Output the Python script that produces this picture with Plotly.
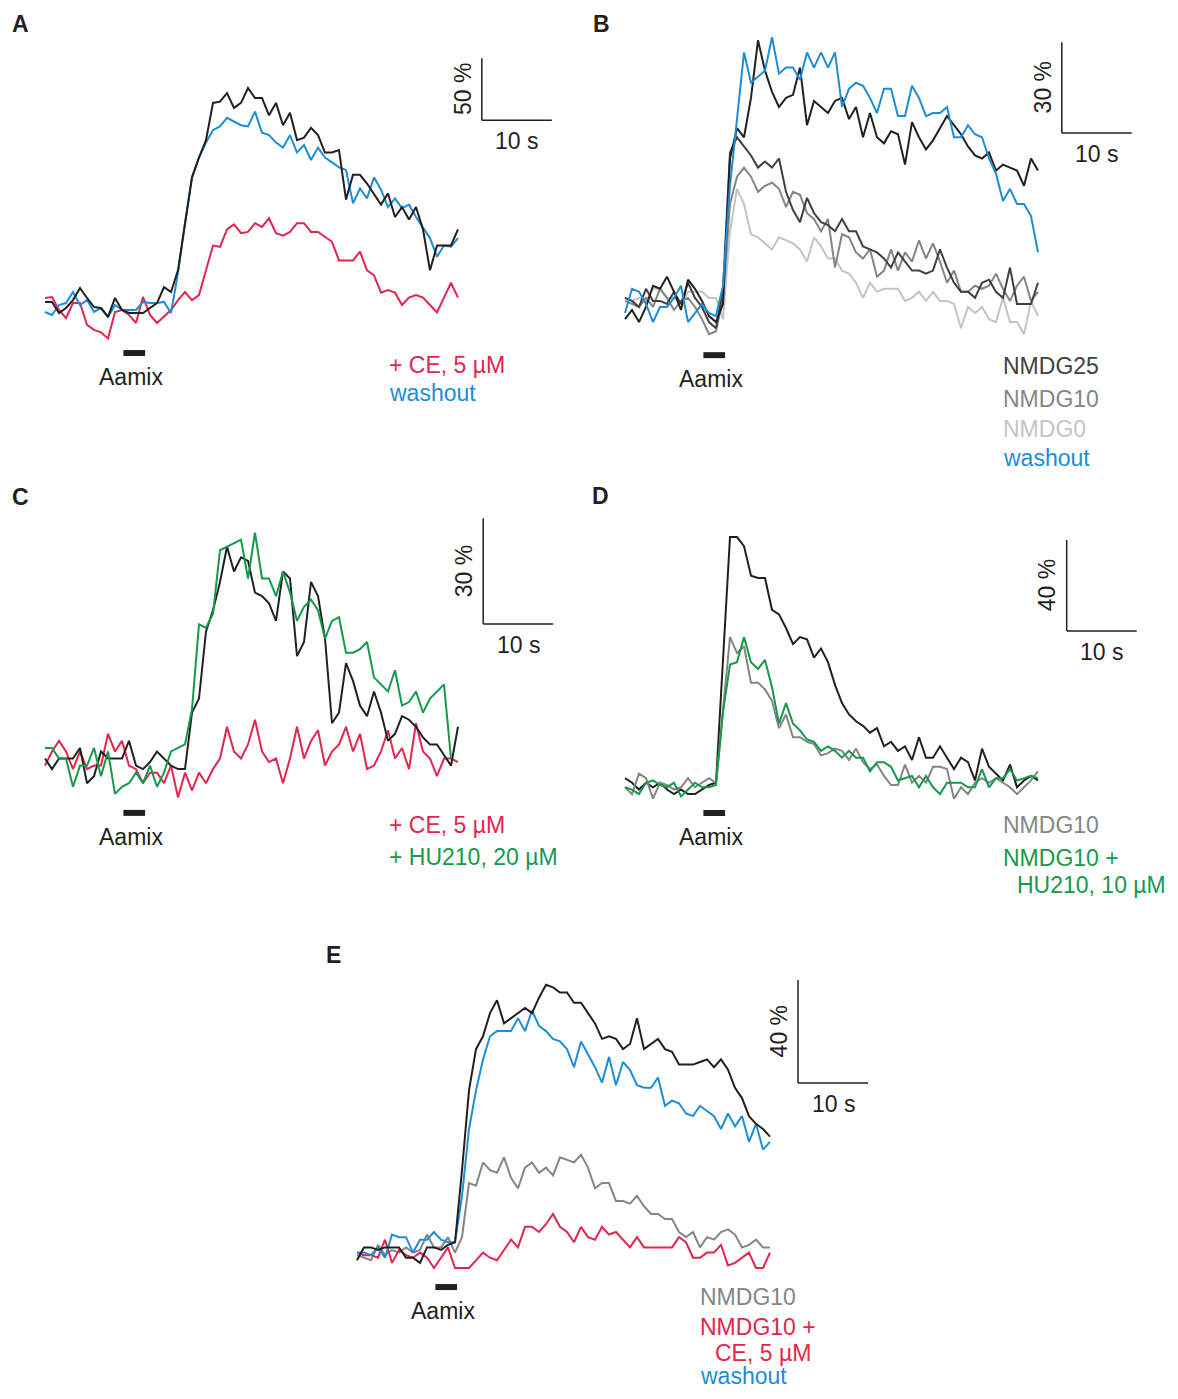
import plotly.graph_objects as go

PAGE_OFF = 8                 # default body margin of the page
W, H = 1178 - 2 * PAGE_OFF, 1399 - 2 * PAGE_OFF
DT = 1.0          # seconds per frame
SX = 7.0          # pixels per second (layout scale)
FONT = "Arial, Liberation Sans, Helvetica, sans-serif"

# ---------------- colours ----------------
BLACK = "#231f20"
BLUE = "#1d8dd5"
RED = "#e4254e"
GREEN = "#15994b"
G25 = "#404040"
G10 = "#858585"
G0 = "#c4c4c4"

# ---------------- data (ΔF/F, %) ----------------
A_ctrl = [6.5, 6.5, -2.4, 1.6, 8, 17.7, 9.7, 2.4, 1.6, -5.6, 9.7, 0, -2.4, -2.4, -2.4, 1.6, 5.6, 18.5, 14.5, 32,
          70, 107, 123, 137, 167, 168, 175, 163, 167, 179, 171, 171, 157, 167, 149, 159, 137, 139, 147, 141,
          127, 127, 129, 89, 109, 109, 102, 93, 85, 94, 75, 83, 73, 83, 65, 32, 52, 52, 52, 65]
A_ce = [9.7, 10.5, 0, -6.5, 5.6, 5.6, -12, -16, -18, -23, -1.6, 0, -4, -10.5, 10.5, -4, -10.5, -5.6, 0, 8,
        14.5, 8, 12, 32, 52, 51, 65, 69, 62, 63, 70, 67, 74, 62, 60, 63, 70, 70, 63, 63,
        59, 55, 40, 40, 40, 47, 32, 28, 14, 16, 14, 4, 10, 12, 10, 4, -2, 10, 22, 10]
A_wash = [-1.6, -4, 4, 5.6, 14.5, 4, 8, -1.6, 1.6, -5.6, 4, 0, 0, 0, 6.5, 5.6, 5.6, 6.5, -2.4, 30,
          70, 107, 123, 135, 145, 148, 155, 152, 149, 148, 160, 143, 141, 135, 131, 141, 127, 133, 121, 131,
          123, 119, 115, 113, 86, 98, 90, 107, 97, 83, 90, 82, 85, 75, 67, 58, 43, 52, 51, 58]

B_ctrl = [-3, 0, -4, 1, 8, 7, 11, 6, 0, 10, 7, 3, -2, -4, 2, 50, 60, 57, 70, 89, 79, 72, 67, 70, 71, 80, 61, 69, 67, 65,
          69, 70, 63, 67, 57, 65, 57, 55, 59, 58, 48, 62, 57, 53, 56, 60, 64, 61, 58, 54, 51, 50, 52, 46, 48, 47, 46, 41, 50, 46]
B_n25 = [4, 3, 1, 7, 3, 3, 2, 6, 2, 9, 4, 1, -4, -6, 7, 52, 57, 54, 51, 47, 49, 47, 50, 39, 33, 29, 37, 32, 29, 28,
         26, 30, 26, 26, 21, 20, 19, 17, 14, 19, 16, 13, 13, 12, 13, 20, 14, 9, 6, 6, 4, 9, 10, 6, 4, 14, 2, 2, 2, 9]
B_n10 = [3, 2, 1, 4, 1, 7, 4, 0, 3, 4, 1, -3, -8, -7, 4, 35, 44, 47, 44, 39, 41, 42, 40, 34, 39, 38, 32, 30, 26, 30,
         14, 25, 24, 19, 17, 20, 11, 13, 20, 13, 19, 16, 23, 17, 22, 16, 9, 13, 6, 6, 8, 7, 8, 12, 7, 3, 8, 11, 3, 6]
B_n0 = [4, 3, 4, 3, 7, 7, 4, 4, 2, 6, 6, 6, 4, 4, -3, 26, 40, 35, 25, 24, 22, 20, 24, 23, 22, 20, 16, 24, 21, 17,
        17, 13, 12, 9, 4, 9, 6, 7, 7, 7, 3, 4, 6, 3, 6, 3, 3, 2, -6, 1, -1, 1, -3, -4, 4, -4, -4, -8, 3, -2]
B_wash = [-1, 7, 6, 2, -4, 1, 1, 4, 8, -4, -1, 2, -1, -2, 8, 41, 63, 85, 75, 77, 79, 90, 78, 80, 80, 76, 85, 80, 85, 80,
          85, 67, 73, 75, 74, 70, 65, 73, 73, 64, 64, 74, 70, 64, 65, 65, 67, 57, 57, 61, 58, 57, 50, 45, 36, 40, 35, 35, 31, 19]

C_ctrl = [-1, -4, -1, -1, -1, 2, -8, -6, 1, -1, -1, -1, 4, -3, -4, -2, 1, -1, -3, -4, -4, 12, 16, 35, 41, 49, 59, 52, 56, 55,
          46, 45, 43, 38, 52, 50, 28, 32, 49, 45, 33, 9, 12, 26, 21, 14, 11, 18, 12, 4, 6, 11, 10, 8, 5, 3, 3, 0, -3, 8]
C_ce = [-3, 1, 4, 1, -4, 1, -4, -3, -3, 6, 1, 4, -3, -4, -8, -5, -5, -8, -3, -12, -5, -10, -5, -8, -4, -1, 8, 1, -1, 3,
        10, 1, -2, -1, -8, -1, 8, -1, 4, 7, -3, 1, 3, 8, 1, 6, -4, -3, 1, 7, -1, 2, -4, 9, 1, -1, -6, -1, -1, -2]
C_hu = [2, 2, -1, -1, -9, -3, -3, 2, -6, 1, -11, -9, -8, -5, -8, -3, -9, -5, 1, 2, 3, 13, 37, 36, 40, 58, 59, 60, 61, 50,
        63, 50, 50, 45, 52, 46, 38, 42, 44, 41, 33, 38, 39, 29, 29, 30, 32, 22, 20, 18, 24, 14, 15, 18, 12, 16, 18, 20, -1]

D_ctrl = [3, 1, -2, 1, -1, 1, -2, -4, -2, -4, -4, -2, 0, 1, 55, 109, 109, 105, 92, 91, 91, 77, 75, 69, 62, 65, 64, 56, 60, 54,
          44, 36, 31, 28, 26, 23, 25, 17, 19, 15, 17, 11, 21, 12, 12, 17, 12, 7, 12, 10, 2, 16, 8, 5, 2, 9, -1, 2, 4, 2]
D_n10 = [-1, -4, 5, 3, -6, 1, 0, -2, -1, 3, -1, 1, 3, 1, 33, 65, 58, 61, 45, 45, 42, 37, 25, 31, 21, 21, 19, 18, 13, 14,
         16, 15, 11, 16, 10, 7, 9, 4, 0, 0, 9, 1, 4, 1, 8, 8, 7, -6, -1, -4, 1, 3, 1, 3, 1, -1, -4, -1, 2, 6]
D_hu = [-1, -2, -4, 1, 2, 0, -1, 1, -5, -2, 1, -1, -1, 0, 32, 53, 54, 65, 54, 51, 55, 43, 27, 36, 27, 24, 20, 19, 15, 17,
        15, 12, 15, 12, 12, 6, 10, 10, 8, 2, 3, 4, -1, 4, -1, -4, 1, 1, 1, -1, -1, 7, -1, 3, 3, 7, 2, 3, 4, 3]

E_ctrl = [-4, 1, 1, 0, 1, 1, 1, -3, -3, -5, 1, 1, 0, 2, 3, 31, 62, 78, 83, 92, 97, 88, 90, 92, 94, 92, 98, 103, 102, 100,
          100, 96, 96, 92, 88, 82, 83, 82, 78, 80, 90, 78, 80, 82, 78, 77, 72, 72, 72, 73, 74, 71, 74, 70, 63, 59, 52, 49, 47, 44]
E_n10 = [-2, -3, -4, 2, -2, 0, -1, 1, -1, 0, 6, 1, 1, 5, -1, 5, 26, 25, 34, 31, 30, 36, 28, 24, 32, 34, 30, 32, 29, 36,
         35, 34, 37, 32, 24, 26, 26, 19, 19, 18, 21, 17, 14, 14, 12, 12, 7, 5, 7, 1, 5, 4, 7, 8, 6, 1, 2, 4, 1, 1]
E_ce = [-1, -2, -2, -3, 4, -5, 0, -2, -3, -1, -3, -7, -3, 1, -7, -7, -7, -4, -1, -3, -4, 0, 4, 1, 9, 9, 7, 10, 14, 9,
        7, 3, 9, 5, 4, 9, 6, 7, 4, 1, 5, 1, 1, 1, 1, 1, 5, 3, -3, -3, -1, -1, 2, -6, -5, -3, -1, -7, -7, -1]
E_wash = [-1, -1, -2, 1, -3, 6, 5, 5, -1, 4, 4, 7, 4, 3, 3, 21, 47, 62, 74, 83, 85, 85, 85, 90, 85, 93, 87, 85, 82, 81,
          78, 71, 81, 76, 71, 65, 75, 64, 73, 70, 64, 63, 63, 67, 56, 58, 57, 53, 52, 56, 54, 52, 47, 53, 48, 52, 42, 49, 39, 42]

STIM = (11.2, 14.3)  # Aamix application (s)


def times(vals):
    return [i * DT for i in range(len(vals))]


def fx(px):   # page pixel -> figure paper x
    return (px - PAGE_OFF) / W


def fy(py):   # page pixel -> figure paper y
    return 1 - (py - PAGE_OFF) / H


# panel geometry: origin pixel (t=0, 0 %), px per %, box in page pixels (L, R, T, B)
panels = [
    dict(letter="A", lpos=(20, 24), ox=45, oy=310, sy=1.24, box=(25, 580, 35, 372),
         traces=[(A_ce, RED), (A_wash, BLUE), (A_ctrl, BLACK)],
         bar=(62.4, 153, 50, "50 %"), stim_y=-34.7,
         legend=[(387, 365, "+ CE, 5 µM", RED), (387, 393, "washout", BLUE)]),
    dict(letter="B", lpos=(601, 24), ox=625, oy=310, sy=3.03, box=(605, 1168, 30, 372),
         traces=[(B_n0, G0), (B_n10, G10), (B_n25, G25), (B_ctrl, BLACK), (B_wash, BLUE)],
         bar=(62.4, 58.4, 30, "30 %"), stim_y=-14.9,
         legend=[(1001, 366, "NMDG25", G25), (1001, 399, "NMDG10", G10), (1001, 429, "NMDG0", G0),
                 (1001, 458, "washout", BLUE)]),
    dict(letter="C", lpos=(20, 497), ox=45, oy=755, sy=3.53, box=(25, 580, 505, 830),
         traces=[(C_ce, RED), (C_ctrl, BLACK), (C_hu, GREEN)],
         bar=(62.6, 37.1, 30, "30 %"), stim_y=-16.4,
         legend=[(387, 825, "+ CE, 5 µM", RED), (387, 857, "+ HU210, 20 µM", GREEN)]),
    dict(letter="D", lpos=(600, 496), ox=625, oy=785, sy=2.275, box=(605, 1168, 520, 830),
         traces=[(D_ctrl, BLACK), (D_n10, G10), (D_hu, GREEN)],
         bar=(63.1, 67.7, 40, "40 %"), stim_y=-12.3,
         legend=[(1001, 825, "NMDG10", G10), (1001, 858, "NMDG10 +", GREEN), (1015, 885, "HU210, 10 µM", GREEN)]),
    dict(letter="E", lpos=(333, 955), ox=357, oy=1250, sy=2.575, box=(340, 900, 965, 1300),
         traces=[(E_n10, G10), (E_ce, RED), (E_wash, BLUE), (E_ctrl, BLACK)],
         bar=(63.0, 64.9, 40, "40 %"), stim_y=-14.4,
         legend=[(698, 1297, "NMDG10", G10), (698, 1327, "NMDG10 +", RED), (713, 1353, "CE, 5 µM", RED),
                 (698, 1376, "washout", BLUE)]),
]

fig = go.Figure()
layout = dict(width=W, height=H, autosize=False, margin=dict(l=0, r=0, t=0, b=0),
              paper_bgcolor="white", plot_bgcolor="rgba(0,0,0,0)", showlegend=False)
shapes, annotations = [], []
TXT = dict(family=FONT, size=23)

for k, p in enumerate(panels):
    n = "" if k == 0 else str(k + 1)
    xa, ya = "x" + n, "y" + n
    L, R, T, B = p["box"]
    layout["xaxis" + n] = dict(domain=[fx(L), fx(R)], range=[(L - p["ox"]) / SX, (R - p["ox"]) / SX],
                               visible=False, anchor=ya, fixedrange=True)
    layout["yaxis" + n] = dict(domain=[fy(B), fy(T)], range=[(p["oy"] - B) / p["sy"], (p["oy"] - T) / p["sy"]],
                               visible=False, anchor=xa, fixedrange=True)
    for vals, col in p["traces"]:
        fig.add_trace(go.Scatter(x=times(vals), y=vals, mode="lines", xaxis=xa, yaxis=ya,
                                 line=dict(color=col, width=2), hoverinfo="skip"))
    # scale bar
    t0, yb, hgt, lab = p["bar"]
    shapes.append(dict(type="line", xref=xa, yref=ya, x0=t0, x1=t0, y0=yb, y1=yb + hgt,
                       line=dict(color=BLACK, width=1.5)))
    shapes.append(dict(type="line", xref=xa, yref=ya, x0=t0, x1=t0 + 10, y0=yb, y1=yb,
                       line=dict(color=BLACK, width=1.5)))
    annotations.append(dict(xref=xa, yref=ya, x=t0 + 5, y=yb, text="10 s", showarrow=False,
                            xanchor="center", yanchor="top", yshift=-6, font=dict(color=BLACK, **TXT)))
    annotations.append(dict(xref=xa, yref=ya, x=t0, y=yb + hgt / 2, text=lab, showarrow=False, textangle=-90,
                            xanchor="right", yanchor="middle", xshift=-4, font=dict(color=BLACK, **TXT)))
    # Aamix application bar
    shapes.append(dict(type="line", xref=xa, yref=ya, x0=STIM[0], x1=STIM[1], y0=p["stim_y"], y1=p["stim_y"],
                       line=dict(color=BLACK, width=6)))
    annotations.append(dict(xref=xa, yref=ya, x=(STIM[0] + STIM[1]) / 2 - 0.4, y=p["stim_y"], text="Aamix",
                            showarrow=False, xanchor="center", yanchor="middle", yshift=-24,
                            font=dict(color=BLACK, **TXT)))
    # legend text
    for lx, lyy, txt, col in p["legend"]:
        annotations.append(dict(xref="paper", yref="paper", x=fx(lx), y=fy(lyy), text=txt, showarrow=False,
                                xanchor="left", yanchor="middle", font=dict(color=col, **TXT)))
    # panel letter
    annotations.append(dict(xref="paper", yref="paper", x=fx(p["lpos"][0]), y=fy(p["lpos"][1]),
                            text="<b>%s</b>" % p["letter"], showarrow=False, xanchor="center", yanchor="middle",
                            font=dict(family=FONT, size=23, color=BLACK)))

layout["shapes"] = shapes
layout["annotations"] = annotations
fig.update_layout(**layout)
fig.write_html("out.html")
